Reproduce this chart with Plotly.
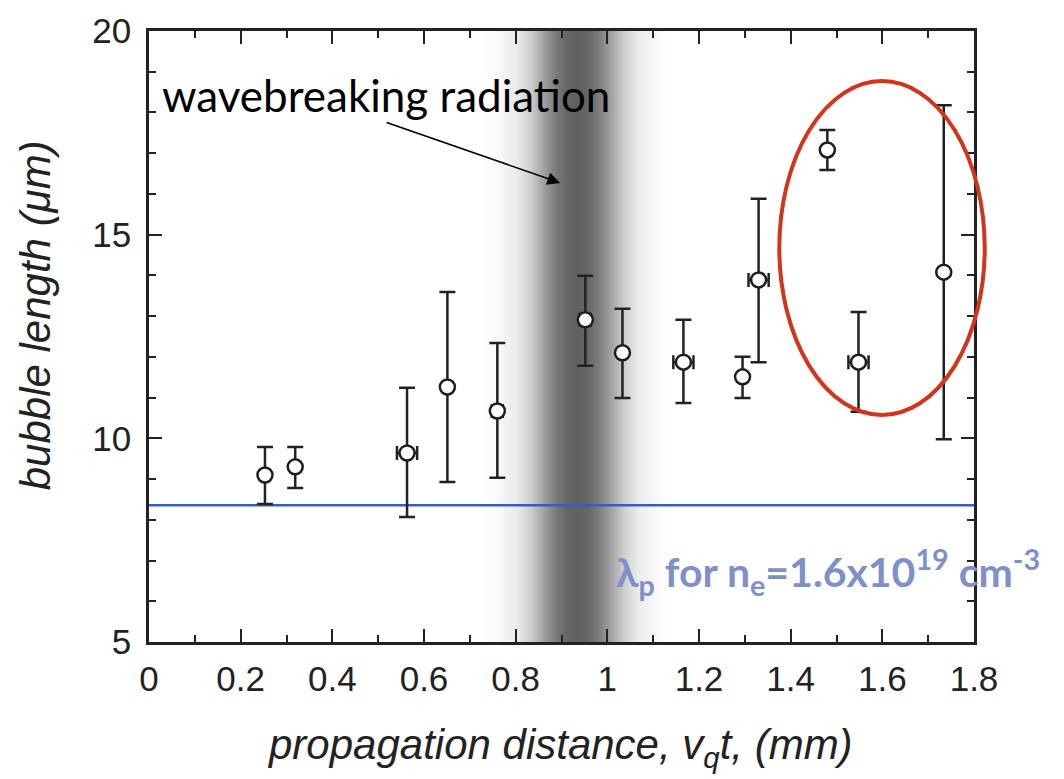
import plotly.graph_objects as go

# ---------------- data ----------------
dist_mm = [0.253, 0.319, 0.563, 0.651, 0.760, 0.952, 1.033, 1.166, 1.295, 1.330, 1.480, 1.548, 1.734]
bubble_um = [9.10, 9.30, 9.64, 11.26, 10.67, 12.91, 12.10, 11.87, 11.51, 13.89, 17.08, 11.87, 14.08]
err_plus = [0.69, 0.49, 1.60, 2.33, 1.67, 1.08, 1.08, 1.04, 0.49, 1.99, 0.49, 1.23, 4.10]
err_minus = [0.71, 0.52, 1.57, 2.33, 1.64, 1.13, 1.11, 1.00, 0.52, 2.02, 0.49, 1.22, 4.10]
x_err = [0.0, 0.0, 0.022, 0.0, 0.012, 0.012, 0.0, 0.022, 0.0, 0.022, 0.0, 0.022, 0.0]
lambda_p_um = 8.36

# wavebreaking band profile (position in mm, relative darkness)
band_x = [0.727, 0.759, 0.803, 0.831, 0.862, 0.890, 0.912, 0.934, 0.956, 0.978, 1.006, 1.037, 1.065, 1.109, 1.141]
band_dark = [0.0, 0.03, 0.13, 0.30, 0.60, 0.85, 0.96, 1.0, 0.96, 0.85, 0.60, 0.30, 0.13, 0.03, 0.0]

x_ticks = [0, 0.2, 0.4, 0.6, 0.8, 1, 1.2, 1.4, 1.6, 1.8]
x_ticklabels = ["0", "0.2", "0.4", "0.6", "0.8", "1", "1.2", "1.4", "1.6", "1.8"]
y_ticks = [5, 10, 15, 20]

TICKFONT = "Liberation Sans, Arial, sans-serif"
CAL = "Lato, Open Sans, sans-serif"

fig = go.Figure()

fig.add_trace(go.Heatmap(
    x=band_x, y=[0, 25], z=[band_dark, band_dark],
    zmin=0, zmax=1, zsmooth="best", showscale=False, hoverinfo="skip",
    colorscale=[[0, "rgb(255,255,255)"], [1, "rgb(96,96,96)"]],
))

fig.add_trace(go.Scatter(
    x=[0, 1.8], y=[lambda_p_um, lambda_p_um], mode="lines",
    line=dict(color="#3a5cc0", width=2.5), hoverinfo="skip", showlegend=False,
))

fig.add_trace(go.Scatter(
    x=dist_mm, y=bubble_um, mode="markers", showlegend=False,
    marker=dict(symbol="circle", size=15, color="white",
                line=dict(color="#1e1e1e", width=2.5)),
    error_y=dict(type="data", symmetric=False, array=err_plus, arrayminus=err_minus,
                 color="#222222", thickness=2.5, width=8),
    error_x=dict(type="data", array=x_err, color="#222222", thickness=2.5, width=7),
))

fig.update_xaxes(
    range=[0, 1.8], tickvals=x_ticks, ticktext=x_ticklabels,
    ticks="inside", ticklen=13, tickwidth=2, tickcolor="#222",
    showline=True, linecolor="#222", linewidth=2.5, mirror="ticks",
    showgrid=False, zeroline=False, ticklabelstandoff=4,
    tickfont=dict(family=TICKFONT, size=35, color="#222"),
    minor=dict(dtick=0.1, ticks="inside", ticklen=7, tickwidth=2, tickcolor="#222"),
)
fig.update_yaxes(
    range=[5, 20], tickvals=y_ticks,
    ticks="inside", ticklen=13, tickwidth=2, tickcolor="#222",
    showline=True, linecolor="#222", linewidth=2.5, mirror="ticks",
    showgrid=False, zeroline=False, ticklabelstandoff=8,
    tickfont=dict(family=TICKFONT, size=35, color="#222"),
    minor=dict(dtick=1, ticks="inside", ticklen=7, tickwidth=2, tickcolor="#222"),
)

annotations = [
    dict(text="<i>propagation distance, v<sub>q</sub>t, (mm)</i>", xref="paper", yref="paper",
         x=0.498, y=-0.172, xanchor="center", yanchor="middle", showarrow=False,
         font=dict(family=TICKFONT, size=42, color="#222")),
    dict(text="<i>bubble length (μm)</i>", xref="paper", yref="paper",
         x=-0.138, y=0.535, xanchor="center", yanchor="middle", showarrow=False, textangle=-90,
         font=dict(family=TICKFONT, size=42, color="#222")),
    dict(text="wavebreaking radiation", xref="paper", yref="paper",
         x=0.0133, y=0.895, xanchor="left", yanchor="middle", showarrow=False,
         font=dict(family=CAL, size=44, color="black")),
    dict(text="", x=0.897, y=16.27, xref="x", yref="y", showarrow=True,
         ax=-175, ay=-61, arrowhead=2, arrowsize=1.6, arrowwidth=1.6, arrowcolor="black"),
    dict(text="<b>λ<sub>p</sub> for n<sub>e</sub>=1.6x10<sup>19</sup> cm<sup>-3</sup></b>",
         xref="paper", yref="paper", x=(614 - 149) / 825, y=(642 - 572) / 611,
         xanchor="left", yanchor="middle", showarrow=False,
         font=dict(family=CAL, size=41, color="#7f8fc8")),
]

fig.update_layout(
    width=1064, height=779,
    margin=dict(l=149, r=90, t=31, b=137),
    paper_bgcolor="white", plot_bgcolor="white",
    annotations=annotations,
    shapes=[dict(type="circle", xref="paper", yref="paper",
                 x0=0.764, x1=1.013, y0=0.3715, y1=0.918,
                 line=dict(color="#d2341c", width=4))],
)

fig.write_html("out.html")
